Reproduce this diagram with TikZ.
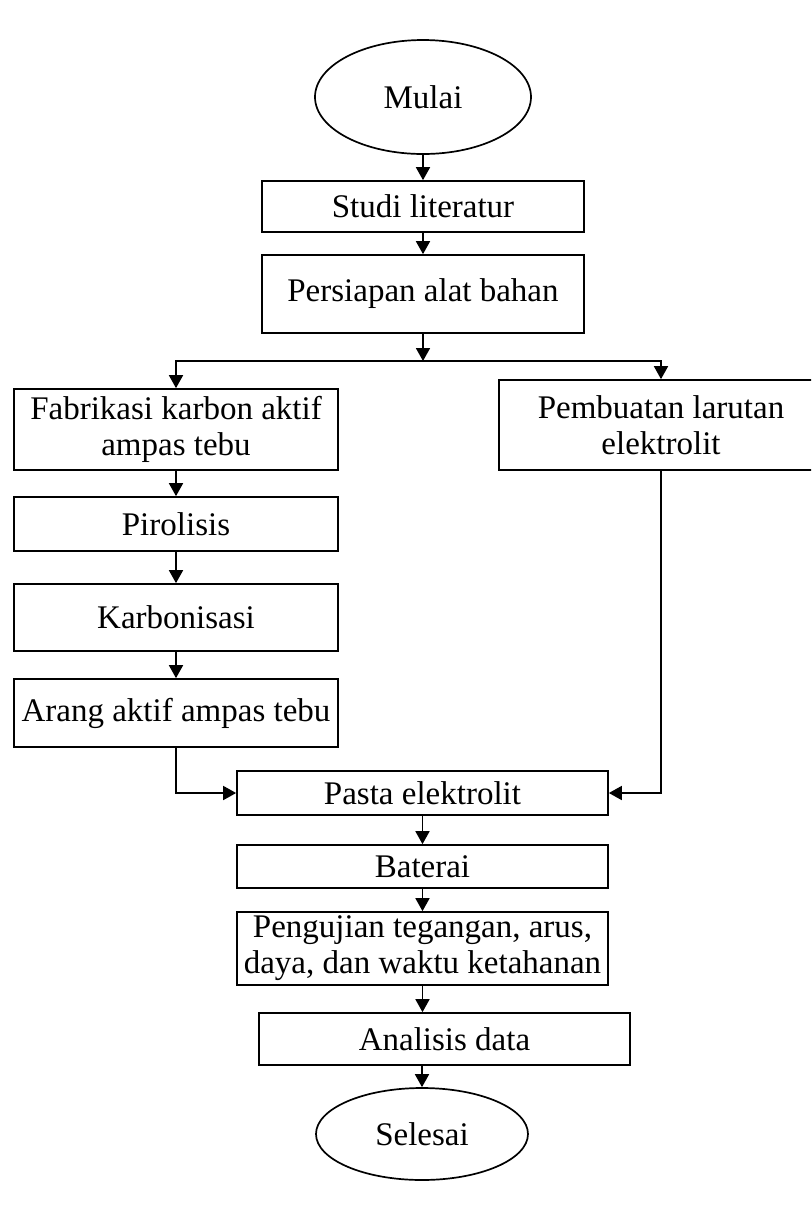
\documentclass[tikz,border=0pt]{standalone}
\usepackage{fontspec}
\setmainfont{Liberation Serif}
\usetikzlibrary{shapes.geometric,arrows.meta}

\begin{document}
\begin{tikzpicture}[x=0.5pt, y=-0.5pt,
		font=\fontsize{16.5}{18}\selectfont,
		kotak/.style={draw=black, line width=0.85pt, rectangle, align=center, inner sep=0pt},
		oval/.style={draw=black, line width=0.85pt, ellipse, inner sep=0pt},
		panah/.style={line width=0.85pt, -{Triangle[length=6.5pt, width=7pt]}}]
		\useasboundingbox (0,0) rectangle (811,1207);
		\clip (0,0) rectangle (811,1207);
		\node[oval, minimum width=108pt, minimum height=57pt] (mulai) at (423, 97) {Mulai};
		\node[kotak, minimum width=161pt, minimum height=25.5pt] (studi) at (423, 206.5) {Studi literatur};
		\node[kotak, minimum width=161pt, minimum height=39pt] (persiapan) at (423, 294) {Persiapan alat bahan};
		\coordinate (cabang) at (423, 361);
		\node[kotak, minimum width=162pt, minimum height=40.5pt] (fabrikasi) at (176, 429.5) {Fabrikasi karbon aktif\\ampas tebu};
		\node[kotak, minimum width=162pt, minimum height=45pt] (larutan) at (661, 425) {Pembuatan larutan\\elektrolit};
		\node[kotak, minimum width=162pt, minimum height=27pt] (pirolisis) at (176, 524) {Pirolisis};
		\node[kotak, minimum width=162pt, minimum height=33.5pt] (karbonisasi) at (176, 617.5) {Karbonisasi};
		\node[kotak, minimum width=162pt, minimum height=34pt] (arang) at (176, 713) {Arang aktif ampas tebu};
		\node[kotak, minimum width=185.5pt, minimum height=22pt] (pasta) at (422.5, 793) {Pasta elektrolit};
		\node[kotak, minimum width=185.5pt, minimum height=21.5pt] (baterai) at (422.5, 866.5) {Baterai};
		\node[kotak, minimum width=185.5pt, minimum height=36.5pt] (pengujian) at (422.5, 948.5) {Pengujian tegangan, arus,\\daya, dan waktu ketahanan};
		\node[kotak, minimum width=185.5pt, minimum height=26pt] (analisis) at (444.5, 1039) {Analisis data};
		\node[oval, minimum width=106pt, minimum height=46pt] (selesai) at (422, 1134) {Selesai};
		\draw[panah] (mulai) -- (mulai |- studi.north);
		\draw[panah] (mulai |- studi.south) -- (mulai |- persiapan.north);
		\draw[panah] (mulai |- persiapan.south) -- (cabang);
		\draw[panah] (cabang) -| (fabrikasi.north);
		\draw[panah] (cabang) -| (larutan.north);
		\draw[panah] (fabrikasi) -- (pirolisis);
		\draw[panah] (pirolisis) -- (karbonisasi);
		\draw[panah] (karbonisasi) -- (arang);
		\draw[panah] (arang.south) |- (pasta.west);
		\draw[panah] (larutan.south) |- (pasta.east);
		\draw[panah] (pasta) -- (baterai);
		\draw[panah] (baterai) -- (pengujian);
		\draw[panah] (pengujian.south) -- (pengujian.south |- analisis.north);
		\draw[panah] (selesai.north |- analisis.south) -- (selesai.north);
\end{tikzpicture}
\end{document}
